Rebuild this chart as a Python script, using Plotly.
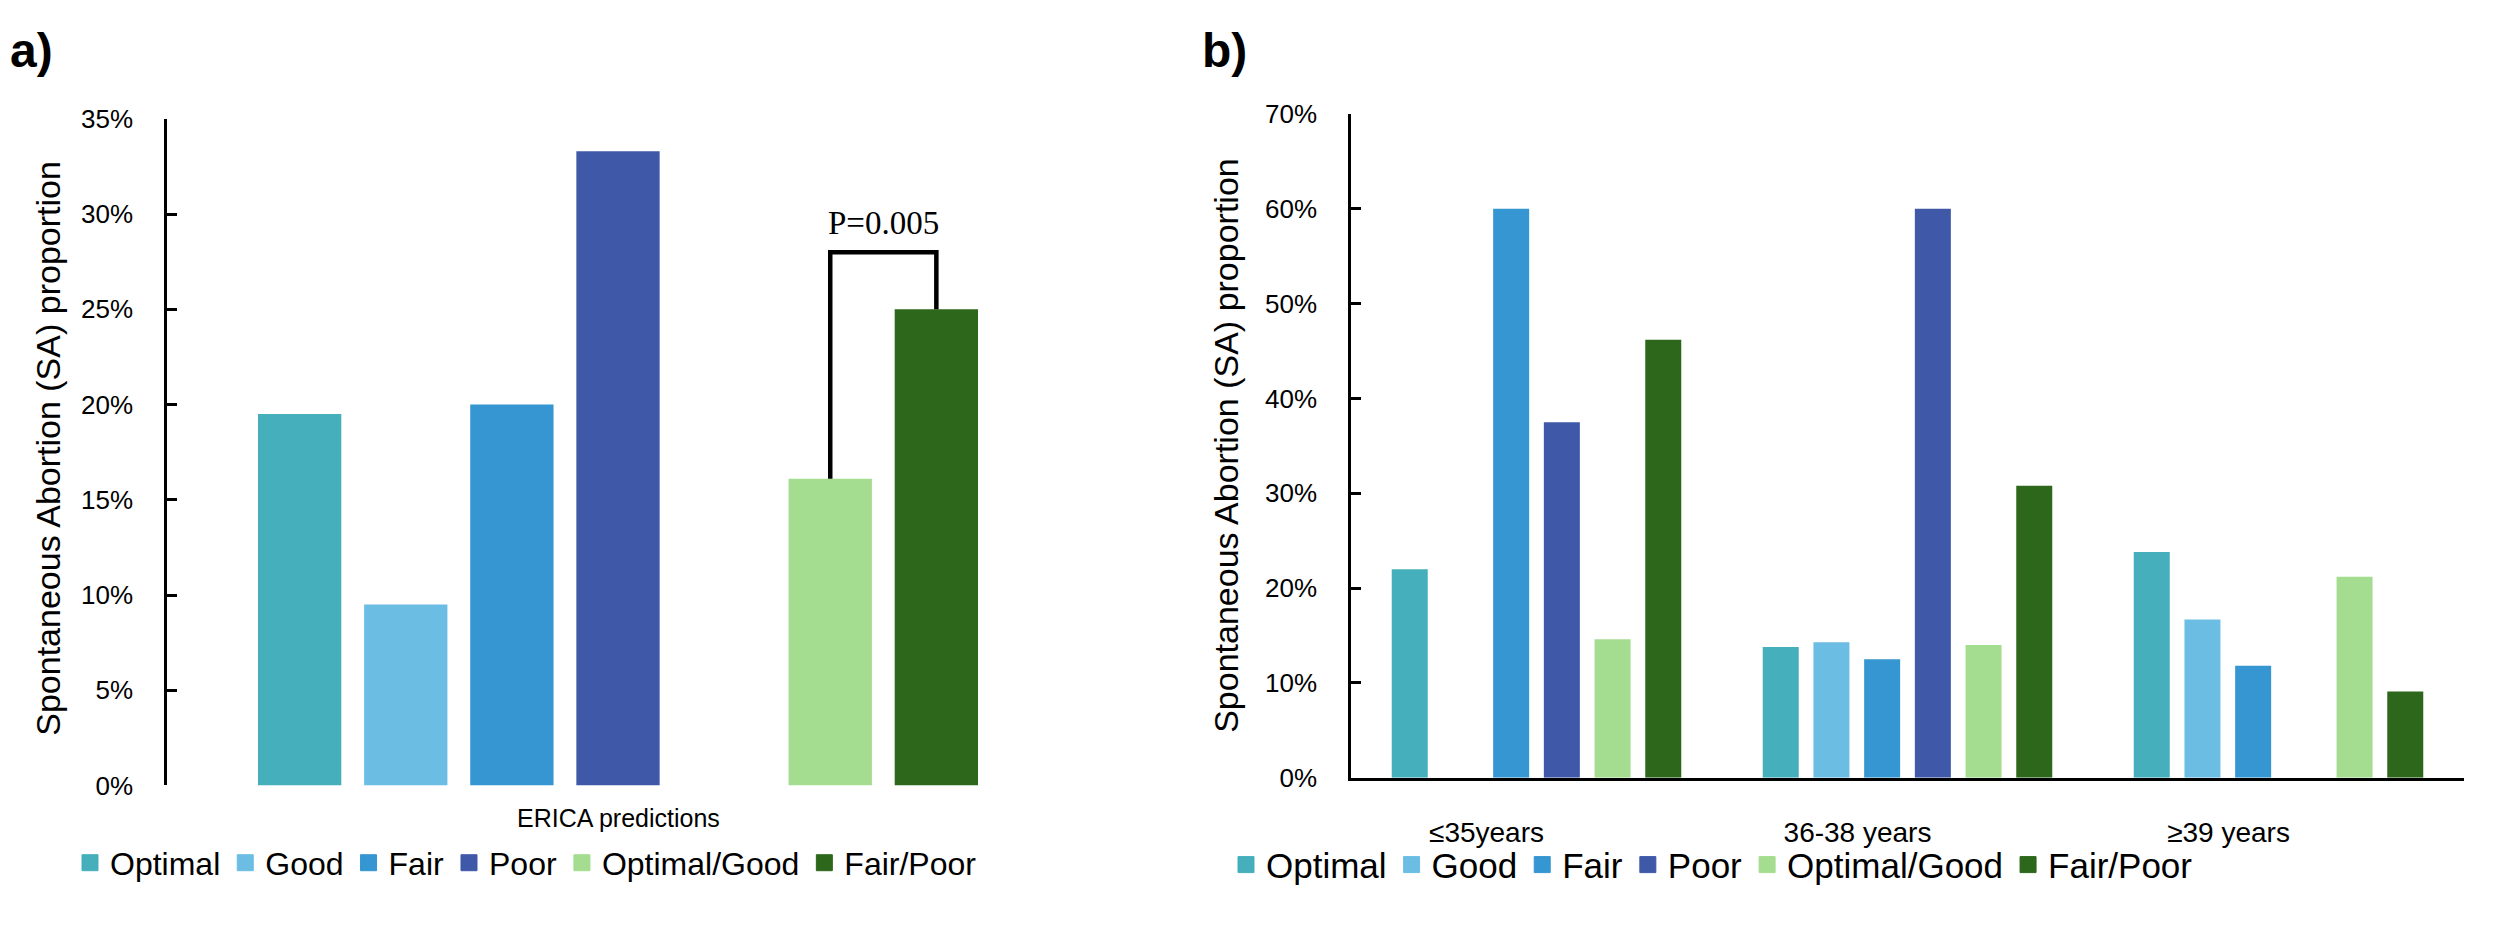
import plotly.graph_objects as go

W, H = 2500, 927

# ---------------- data ----------------
series = ["Optimal", "Good", "Fair", "Poor", "Optimal/Good", "Fair/Poor"]
colors = ["#45AFBC", "#6CBDE4", "#3596D1", "#3F58A8", "#A4DD90", "#2D671C"]

# panel a
a_values = [19.5, 9.5, 20.0, 33.3, 16.1, 25.0]
a_categories = ["Optimal", "Good", "Fair", "Poor", " ", "Optimal/Good", "Fair/Poor"]
a_xtitle = "ERICA predictions"
a_yticks = [0, 5, 10, 15, 20, 25, 30, 35]
p_text = "P=0.005"
bracket_level = 28.0

# panel b
age_groups = ["≤35years", "36-38 years", "≥39 years"]
b_optimal = [22.0, 13.8, 23.8]
b_good = [None, 14.3, 16.7]
b_fair = [60.0, 12.5, 11.8]
b_poor = [37.5, 60.0, None]
b_opt_good = [14.6, 14.0, 21.2]
b_fair_poor = [46.2, 30.8, 9.1]
b_yticks = [0, 10, 20, 30, 40, 50, 60, 70]

ytitle = "Spontaneous Abortion (SA) proportion"

b_values = [b_optimal, b_good, b_fair, b_poor, b_opt_good, b_fair_poor]


def px(x):
    return x / W


def py(y):
    return 1 - y / H


FONT = "Liberation Sans, Arial, sans-serif"

fig = go.Figure()

# panel a bars
for name, val, col in zip(series, a_values, colors):
    fig.add_trace(go.Bar(
        x=[name], y=[val], name=name, marker=dict(color=col, line=dict(width=0)),
        width=0.785, offset=-0.3925, xaxis="x", yaxis="y", showlegend=False,
    ))

# significance bracket
fig.add_trace(go.Scatter(
    x=[series[4], series[4], series[5], series[5]],
    y=[a_values[4], bracket_level, bracket_level, a_values[5]],
    mode="lines", line=dict(color="black", width=4.5), showlegend=False,
    hoverinfo="skip", xaxis="x", yaxis="y",
))

# panel b bars
for name, vals, col in zip(series, b_values, colors):
    fig.add_trace(go.Bar(
        x=age_groups, y=vals, name=name, marker=dict(color=col, line=dict(width=0)),
        xaxis="x2", yaxis="y2", showlegend=False,
    ))

# legend entries (square swatches) for both panels
for leg, xa, ya in (("legend", "x", "y"), ("legend2", "x2", "y2")):
    for name, col in zip(series, colors):
        fig.add_trace(go.Scatter(
            x=[None], y=[None], mode="markers", name=name,
            marker=dict(symbol="square", size=16, color=col,
                        line=dict(color=col, width=1)),
            xaxis=xa, yaxis=ya, legend=leg, showlegend=True,
        ))

yaxis_common = dict(
    showline=True, linecolor="black", linewidth=2.5,
    ticks="inside", ticklen=10, tickwidth=2.5, tickcolor="black",
    showgrid=False, zeroline=False,
    tickfont=dict(family=FONT, size=26, color="black"),
    ticklabelstandoff=26,
)

fig.update_layout(
    width=W, height=H,
    margin=dict(l=0, r=0, t=0, b=0),
    paper_bgcolor="white", plot_bgcolor="white",
    barmode="group", bargap=0.18, bargroupgap=0.29,
    xaxis=dict(
        domain=[px(159), px(1061)], type="category",
        categoryorder="array", categoryarray=a_categories,
        range=[-1.25, 7.25], showticklabels=False, ticks="",
        showline=False, showgrid=False, zeroline=False, anchor="y",
    ),
    yaxis=dict(domain=[py(788), py(99)], range=[0, 35], tickmode="array",
               tickvals=a_yticks, ticktext=[f"{v}%" for v in a_yticks],
               anchor="x", **yaxis_common),
    xaxis2=dict(
        domain=[px(1343), px(2456)], type="category",
        categoryorder="array", categoryarray=age_groups,
        range=[-0.5, 2.5], ticks="", showline=True, linecolor="black",
        linewidth=2.5, showgrid=False, zeroline=False, anchor="y2",
        tickfont=dict(family=FONT, size=28, color="black"),
        ticklabelstandoff=28, ticklabelshift=-50,
    ),
    yaxis2=dict(domain=[py(780), py(94)], range=[0, 70], tickmode="array",
                tickvals=b_yticks, ticktext=[f"{v}%" for v in b_yticks],
                anchor="x2", **yaxis_common),
    legend=dict(
        orientation="h", x=px(518), xanchor="center", y=py(868), yanchor="middle",
        font=dict(family=FONT, size=32, color="black"), itemwidth=30,
        bgcolor="rgba(0,0,0,0)",
    ),
    legend2=dict(
        orientation="h", x=px(1704), xanchor="center", y=py(870), yanchor="middle",
        font=dict(family=FONT, size=35, color="black"), itemwidth=30,
        bgcolor="rgba(0,0,0,0)",
    ),
    showlegend=True,
)

annotations = [
    dict(text="<b>a)</b>", x=px(1), y=1, xref="paper", yref="paper",
         xanchor="left", yanchor="top", yshift=0, borderpad=0, showarrow=False,
         font=dict(family=FONT, size=48, color="black")),
    dict(text="<b>b)</b>", x=px(1193), y=1, xref="paper", yref="paper",
         xanchor="left", yanchor="top", yshift=0, borderpad=0, showarrow=False,
         font=dict(family=FONT, size=48, color="black")),
    dict(text=ytitle, x=px(40), y=py(440), xref="paper", yref="paper",
         textangle=-90, showarrow=False, xanchor="center", yanchor="middle",
         font=dict(family=FONT, size=34, color="black")),
    dict(text=ytitle, x=px(1218), y=py(437), xref="paper", yref="paper",
         textangle=-90, showarrow=False, xanchor="center", yanchor="middle",
         font=dict(family=FONT, size=34, color="black")),
    dict(text=a_xtitle, x=px(610), y=py(822), xref="paper", yref="paper",
         showarrow=False, xanchor="center", yanchor="middle",
         font=dict(family=FONT, size=25, color="black")),
    dict(text=p_text, x=5.5, y=bracket_level, xref="x", yref="y",
         showarrow=False, xanchor="center", yanchor="bottom", yshift=9,
         font=dict(family="Liberation Serif, Times New Roman, serif", size=33, color="black")),
]
fig.update_layout(annotations=annotations)

fig.write_html("out.html")
